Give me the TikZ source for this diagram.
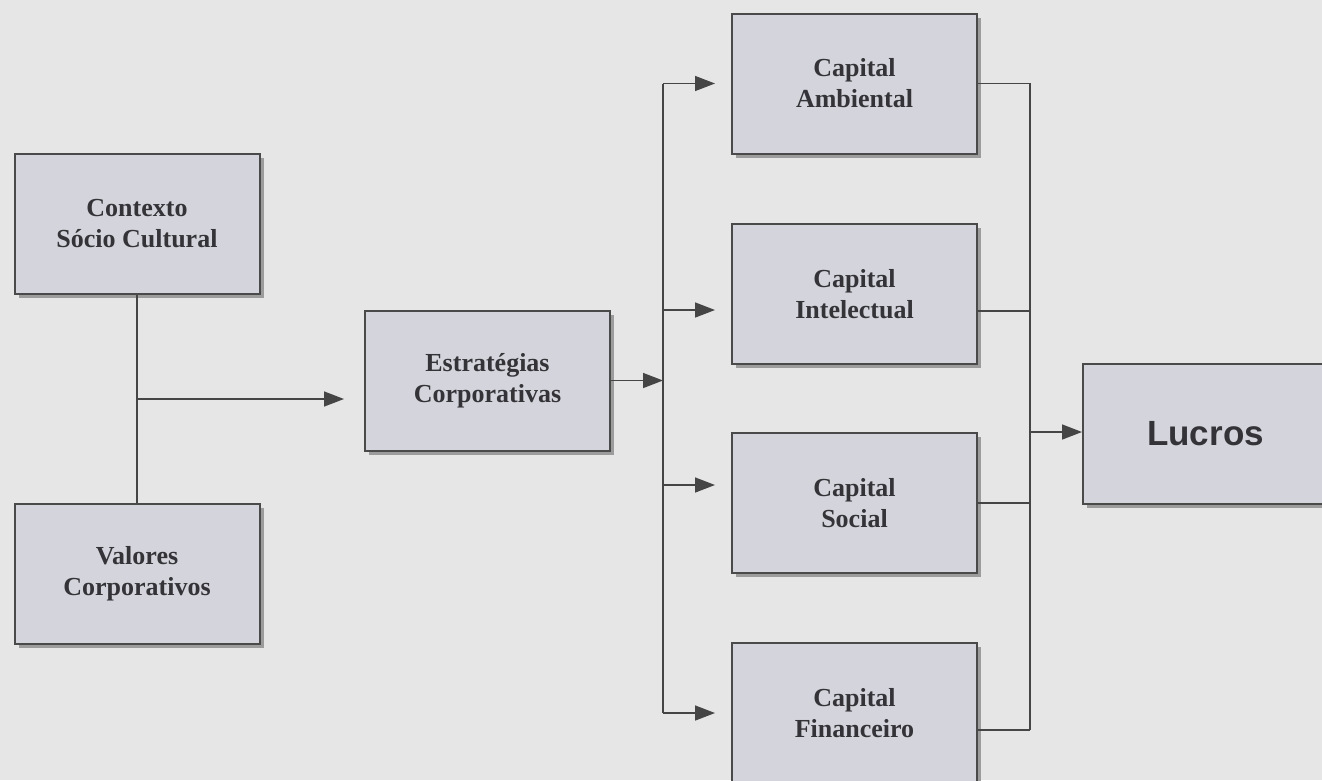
\documentclass[tikz,border=0pt]{standalone}
\usepackage{fontspec}
\setmainfont{Liberation Serif}
\newfontfamily\lucrosfont{Liberation Sans}
\usetikzlibrary{arrows.meta,shadows}
\definecolor{bgc}{HTML}{E6E6E6}
\definecolor{boxfill}{HTML}{D4D4DC}
\definecolor{boxline}{HTML}{4A4A4A}
\definecolor{shadowc}{HTML}{9C9C9C}
\definecolor{lnc}{HTML}{454545}
\definecolor{txt}{HTML}{333338}
\begin{document}
\begin{tikzpicture}[x=1pt,y=-1pt,
  box/.style={draw=boxline, line width=2pt, fill=boxfill, minimum width=245pt,
    minimum height=140pt, inner sep=0pt, align=center,
    font=\bfseries\fontsize{26}{31}\selectfont, text=txt,
    drop shadow={shadow xshift=4pt,shadow yshift=-4pt,fill=shadowc,opacity=1}},
  conn/.style={draw=lnc, line width=1.5pt},
  arr/.style={conn, -{Triangle[length=20pt,width=15pt]}}]
\fill[bgc] (0,0) rectangle (1322,780);
\clip (0,0) rectangle (1322,780);
\useasboundingbox (0,0) rectangle (1322,780);

\node[box] (ctx) at (137,224) {Contexto\\Sócio Cultural};
\node[box] (val) at (137,574) {Valores\\Corporativos};
\node[box] (est) at (487.5,380.5) {Estratégias\\Corporativas};
\node[box] (amb) at (854.5,83.5) {Capital\\Ambiental};
\node[box] (int) at (854.5,294) {Capital\\Intelectual};
\node[box] (soc) at (854.5,503) {Capital\\Social};
\node[box] (fin) at (854.5,713) {Capital\\Financeiro};
\node[box, font=\lucrosfont\bfseries\fontsize{35}{40}\selectfont] (luc) at (1205.5,433.5) {Lucros};

% left junction
\coordinate (j1) at (137,399);
\draw[conn] (ctx.south) -- (val.north);
\draw[arr] (j1) -- ([shift={(-20,18.5)}]est.west);

% left bus
\coordinate (bt) at (663,83.5);
\coordinate (bb) at (663,713);
\coordinate (bm) at (663,380.5);
\draw[conn] (bt) -- (bb);
\draw[arr] (est.east) -- (bm);
\draw[arr] (bt) -- ([shift={(-16,0)}]amb.west);
\draw[arr] (663,310) -- ([shift={(-16,16)}]int.west);
\draw[arr] (663,485) -- ([shift={(-16,-18)}]soc.west);
\draw[arr] (bb) -- ([shift={(-16,0)}]fin.west);

% right bus
\coordinate (rt) at (1030,83.5);
\coordinate (rb) at (1030,730);
\coordinate (rm) at (1030,432);
\draw[conn] (amb.east) -- (rt) -- (rb);
\draw[conn] ([shift={(0,17)}]int.east) -- (1030,311);
\draw[conn] (soc.east) -- (1030,503);
\draw[conn] ([shift={(0,17)}]fin.east) -- (rb);
\draw[arr] (rm) -- ([shift={(0,-1.5)}]luc.west);
\end{tikzpicture}
\end{document}
